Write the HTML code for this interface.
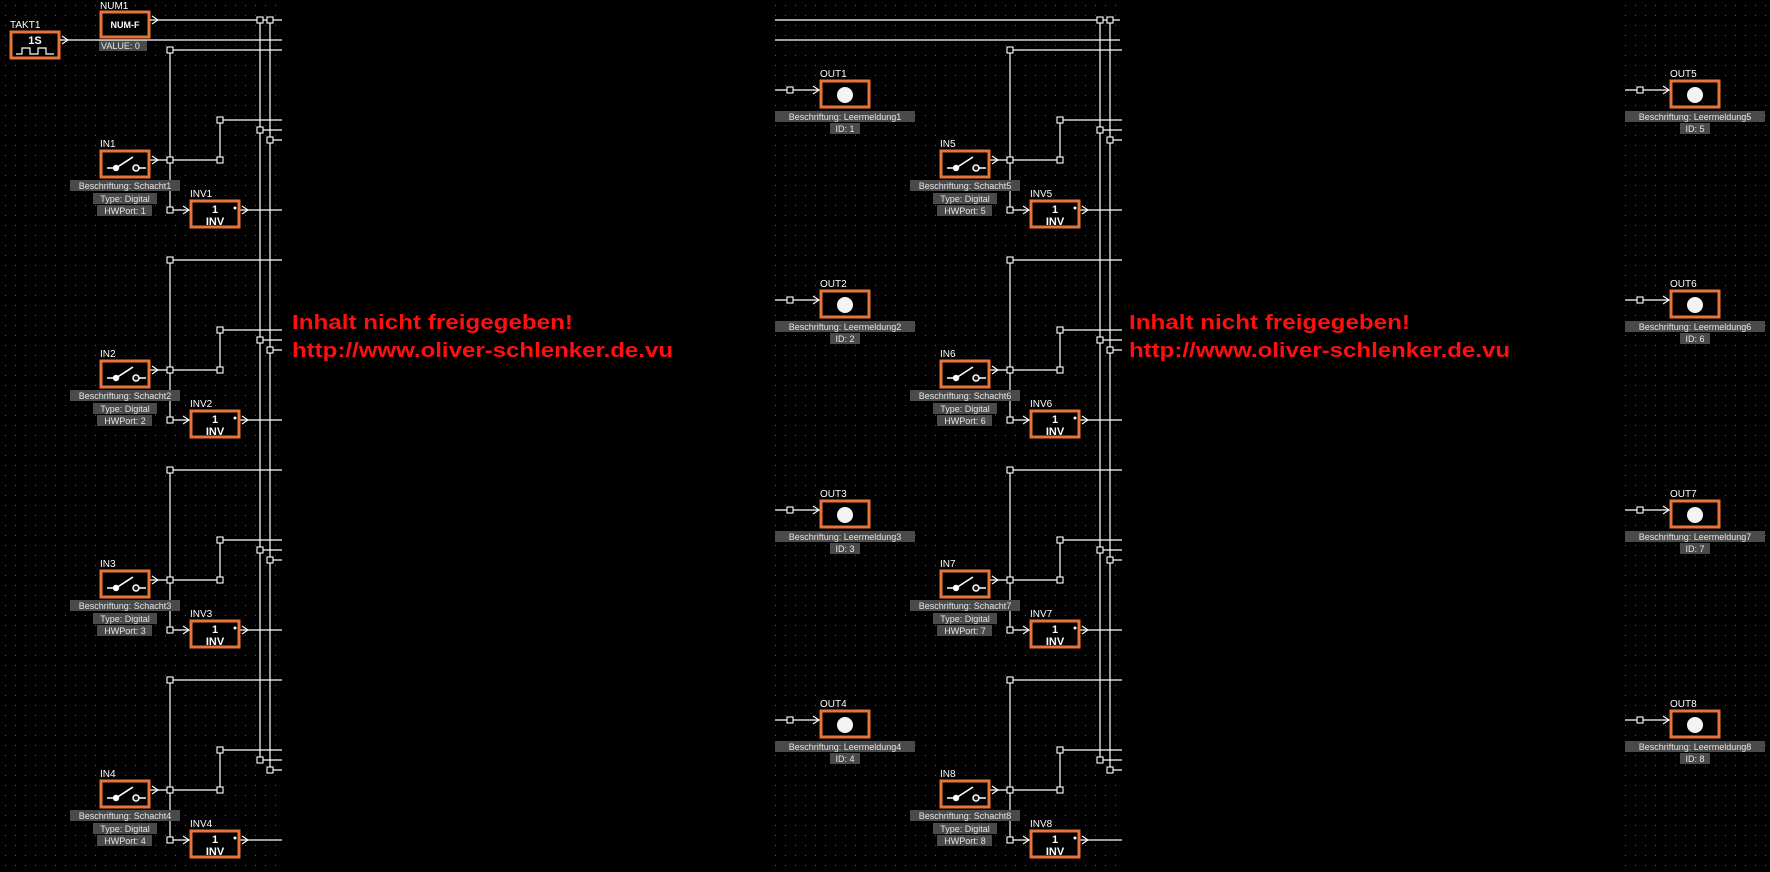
<!DOCTYPE html>
<html><head><meta charset="utf-8">
<style>
html,body{margin:0;padding:0;background:#000;}
svg{display:block;}
text{font-family:"Liberation Sans",sans-serif;}
.w{stroke:#fff;stroke-width:1.2;fill:none;}
.nd{fill:#000;stroke:#fff;stroke-width:1.1;}
.ob{fill:#000;stroke:#e8743a;stroke-width:3;}
.lb{fill:#4a4a4a;}
.t{fill:#e6e6e6;font-size:9px;}
.nm{fill:#fff;font-size:10px;}
.red{fill:#ff1010;font-size:20px;font-weight:bold;}
</style></head><body>
<svg width="1770" height="872" viewBox="0 0 1770 872" xmlns="http://www.w3.org/2000/svg">
<defs>
<pattern id="dots" width="10" height="10" patternUnits="userSpaceOnUse">
<rect x="5" y="5" width="1" height="1" fill="#5a5a5a"/>
</pattern>
<g id="arr"><path d="M-6 -4 L0 0 L-6 4" stroke="#fff" stroke-width="1.1" fill="none"/></g>
<g id="blk">
<path class="w" d="M170 50 H282 M170 50 V210 M150 160 H220 V120 H282 M170 210 H190 M240 210 H282 M260 130 H282 M270 140 H282"/>
<rect class="nd" x="167" y="47" width="6" height="6"/>
<rect class="nd" x="167" y="157" width="6" height="6"/>
<rect class="nd" x="217" y="157" width="6" height="6"/>
<rect class="nd" x="217" y="117" width="6" height="6"/>
<rect class="nd" x="167" y="207" width="6" height="6"/>
<rect class="nd" x="257" y="127" width="6" height="6"/>
<rect class="nd" x="267" y="137" width="6" height="6"/>
<use href="#arr" x="158" y="160"/>
<use href="#arr" x="189" y="210"/>
<use href="#arr" x="248" y="210"/>
<rect class="ob" x="101" y="151" width="48" height="26"/>
<path d="M107 168 H116 M116 168 L133 157 M139 168 H146" stroke="#fff" stroke-width="1.6"/>
<circle cx="116" cy="168" r="3.2" fill="#fff"/>
<circle cx="136" cy="168" r="3" fill="#222" stroke="#fff" stroke-width="1.5"/>
<rect class="ob" x="191" y="201" width="48" height="26"/>
<circle cx="235" cy="208" r="1.5" fill="#fff"/>
<rect class="lb" x="70" y="180" width="110" height="11"/>
<rect class="lb" x="93" y="193" width="64" height="11"/>
<rect class="lb" x="97" y="205" width="55" height="11"/>
</g>
<g id="out">
<path class="w" d="M-45 90 H0"/>
<rect class="nd" x="-33" y="87" width="6" height="6"/>
<use href="#arr" x="-1" y="90"/>
<rect class="ob" x="1" y="81" width="48" height="26"/>
<circle cx="25" cy="95" r="8" fill="#f4f4f4"/>
<rect class="lb" x="-45" y="111" width="140" height="11"/>
<rect class="lb" x="10" y="123" width="30" height="11"/>
</g>
</defs>
<rect width="1770" height="872" fill="#000"/>
<rect width="1770" height="872" fill="url(#dots)"/>
<rect x="282" y="0" width="493" height="872" fill="#000"/>
<rect x="1125" y="0" width="498" height="872" fill="#000"/>

<!-- top -->
<rect class="ob" x="11" y="32" width="48" height="26"/>
<text x="35" y="44" fill="#fff" font-size="11" font-weight="bold" text-anchor="middle">1S</text>
<path d="M16 54 H22 V48 H30 V54 H38 V48 H46 V54 H54" stroke="#fff" stroke-width="1.2" fill="none"/>
<text class="nm" x="10" y="28">TAKT1</text>
<rect class="ob" x="101" y="12" width="48" height="25"/>
<text x="125" y="28" fill="#fff" font-size="9" font-weight="bold" text-anchor="middle">NUM-F</text>
<text class="nm" x="100" y="9">NUM1</text>
<rect class="lb" x="99" y="40" width="48" height="11"/>
<text class="t" x="101" y="49">VALUE: 0</text>
<path class="w" d="M150 20 H282 M60 40 H282 M260 20 V760 M270 20 V770"/>
<use href="#arr" x="158" y="20"/><use href="#arr" x="68" y="40"/>
<rect class="nd" x="257" y="17" width="6" height="6"/>
<rect class="nd" x="267" y="17" width="6" height="6"/>
<path class="w" d="M775 20 H1120 M775 40 H1120 M1100 20 V760 M1110 20 V770"/>
<rect class="nd" x="1097" y="17" width="6" height="6"/>
<rect class="nd" x="1107" y="17" width="6" height="6"/>

<!-- left blocks -->
<g transform="translate(0,0)"><use href="#blk"/><text class="nm" x="100" y="147">IN1</text><text class="nm" x="190" y="197">INV1</text><text class="t" x="125" y="189" text-anchor="middle">Beschriftung: Schacht1</text><text class="t" x="125" y="202" text-anchor="middle">Type: Digital</text><text class="t" x="125" y="214" text-anchor="middle">HWPort: 1</text><text x="215" y="213" fill="#fff" font-size="11" font-weight="bold" text-anchor="middle">1</text><text x="215" y="225" fill="#fff" font-size="11" font-weight="bold" text-anchor="middle">INV</text></g>
<g transform="translate(0,210)"><use href="#blk"/><text class="nm" x="100" y="147">IN2</text><text class="nm" x="190" y="197">INV2</text><text class="t" x="125" y="189" text-anchor="middle">Beschriftung: Schacht2</text><text class="t" x="125" y="202" text-anchor="middle">Type: Digital</text><text class="t" x="125" y="214" text-anchor="middle">HWPort: 2</text><text x="215" y="213" fill="#fff" font-size="11" font-weight="bold" text-anchor="middle">1</text><text x="215" y="225" fill="#fff" font-size="11" font-weight="bold" text-anchor="middle">INV</text></g>
<g transform="translate(0,420)"><use href="#blk"/><text class="nm" x="100" y="147">IN3</text><text class="nm" x="190" y="197">INV3</text><text class="t" x="125" y="189" text-anchor="middle">Beschriftung: Schacht3</text><text class="t" x="125" y="202" text-anchor="middle">Type: Digital</text><text class="t" x="125" y="214" text-anchor="middle">HWPort: 3</text><text x="215" y="213" fill="#fff" font-size="11" font-weight="bold" text-anchor="middle">1</text><text x="215" y="225" fill="#fff" font-size="11" font-weight="bold" text-anchor="middle">INV</text></g>
<g transform="translate(0,630)"><use href="#blk"/><text class="nm" x="100" y="147">IN4</text><text class="nm" x="190" y="197">INV4</text><text class="t" x="125" y="189" text-anchor="middle">Beschriftung: Schacht4</text><text class="t" x="125" y="202" text-anchor="middle">Type: Digital</text><text class="t" x="125" y="214" text-anchor="middle">HWPort: 4</text><text x="215" y="213" fill="#fff" font-size="11" font-weight="bold" text-anchor="middle">1</text><text x="215" y="225" fill="#fff" font-size="11" font-weight="bold" text-anchor="middle">INV</text></g>

<!-- middle blocks -->
<g transform="translate(840,0)"><use href="#blk"/><text class="nm" x="100" y="147">IN5</text><text class="nm" x="190" y="197">INV5</text><text class="t" x="125" y="189" text-anchor="middle">Beschriftung: Schacht5</text><text class="t" x="125" y="202" text-anchor="middle">Type: Digital</text><text class="t" x="125" y="214" text-anchor="middle">HWPort: 5</text><text x="215" y="213" fill="#fff" font-size="11" font-weight="bold" text-anchor="middle">1</text><text x="215" y="225" fill="#fff" font-size="11" font-weight="bold" text-anchor="middle">INV</text></g>
<g transform="translate(840,210)"><use href="#blk"/><text class="nm" x="100" y="147">IN6</text><text class="nm" x="190" y="197">INV6</text><text class="t" x="125" y="189" text-anchor="middle">Beschriftung: Schacht6</text><text class="t" x="125" y="202" text-anchor="middle">Type: Digital</text><text class="t" x="125" y="214" text-anchor="middle">HWPort: 6</text><text x="215" y="213" fill="#fff" font-size="11" font-weight="bold" text-anchor="middle">1</text><text x="215" y="225" fill="#fff" font-size="11" font-weight="bold" text-anchor="middle">INV</text></g>
<g transform="translate(840,420)"><use href="#blk"/><text class="nm" x="100" y="147">IN7</text><text class="nm" x="190" y="197">INV7</text><text class="t" x="125" y="189" text-anchor="middle">Beschriftung: Schacht7</text><text class="t" x="125" y="202" text-anchor="middle">Type: Digital</text><text class="t" x="125" y="214" text-anchor="middle">HWPort: 7</text><text x="215" y="213" fill="#fff" font-size="11" font-weight="bold" text-anchor="middle">1</text><text x="215" y="225" fill="#fff" font-size="11" font-weight="bold" text-anchor="middle">INV</text></g>
<g transform="translate(840,630)"><use href="#blk"/><text class="nm" x="100" y="147">IN8</text><text class="nm" x="190" y="197">INV8</text><text class="t" x="125" y="189" text-anchor="middle">Beschriftung: Schacht8</text><text class="t" x="125" y="202" text-anchor="middle">Type: Digital</text><text class="t" x="125" y="214" text-anchor="middle">HWPort: 8</text><text x="215" y="213" fill="#fff" font-size="11" font-weight="bold" text-anchor="middle">1</text><text x="215" y="225" fill="#fff" font-size="11" font-weight="bold" text-anchor="middle">INV</text></g>

<!-- outputs middle -->
<g transform="translate(820,0)"><use href="#out"/><text class="nm" x="0" y="77">OUT1</text><text class="t" x="25" y="120" text-anchor="middle">Beschriftung: Leermeldung1</text><text class="t" x="25" y="132" text-anchor="middle">ID: 1</text></g>
<g transform="translate(820,210)"><use href="#out"/><text class="nm" x="0" y="77">OUT2</text><text class="t" x="25" y="120" text-anchor="middle">Beschriftung: Leermeldung2</text><text class="t" x="25" y="132" text-anchor="middle">ID: 2</text></g>
<g transform="translate(820,420)"><use href="#out"/><text class="nm" x="0" y="77">OUT3</text><text class="t" x="25" y="120" text-anchor="middle">Beschriftung: Leermeldung3</text><text class="t" x="25" y="132" text-anchor="middle">ID: 3</text></g>
<g transform="translate(820,630)"><use href="#out"/><text class="nm" x="0" y="77">OUT4</text><text class="t" x="25" y="120" text-anchor="middle">Beschriftung: Leermeldung4</text><text class="t" x="25" y="132" text-anchor="middle">ID: 4</text></g>
<!-- outputs right -->
<g transform="translate(1670,0)"><use href="#out"/><text class="nm" x="0" y="77">OUT5</text><text class="t" x="25" y="120" text-anchor="middle">Beschriftung: Leermeldung5</text><text class="t" x="25" y="132" text-anchor="middle">ID: 5</text></g>
<g transform="translate(1670,210)"><use href="#out"/><text class="nm" x="0" y="77">OUT6</text><text class="t" x="25" y="120" text-anchor="middle">Beschriftung: Leermeldung6</text><text class="t" x="25" y="132" text-anchor="middle">ID: 6</text></g>
<g transform="translate(1670,420)"><use href="#out"/><text class="nm" x="0" y="77">OUT7</text><text class="t" x="25" y="120" text-anchor="middle">Beschriftung: Leermeldung7</text><text class="t" x="25" y="132" text-anchor="middle">ID: 7</text></g>
<g transform="translate(1670,630)"><use href="#out"/><text class="nm" x="0" y="77">OUT8</text><text class="t" x="25" y="120" text-anchor="middle">Beschriftung: Leermeldung8</text><text class="t" x="25" y="132" text-anchor="middle">ID: 8</text></g>

<!-- red notices -->
<text class="red" x="292" y="329" textLength="281" lengthAdjust="spacingAndGlyphs">Inhalt nicht freigegeben!</text>
<text class="red" x="292" y="357" textLength="381" lengthAdjust="spacingAndGlyphs">http://www.oliver-schlenker.de.vu</text>
<text class="red" x="1129" y="329" textLength="281" lengthAdjust="spacingAndGlyphs">Inhalt nicht freigegeben!</text>
<text class="red" x="1129" y="357" textLength="381" lengthAdjust="spacingAndGlyphs">http://www.oliver-schlenker.de.vu</text>
</svg>
</body></html>
